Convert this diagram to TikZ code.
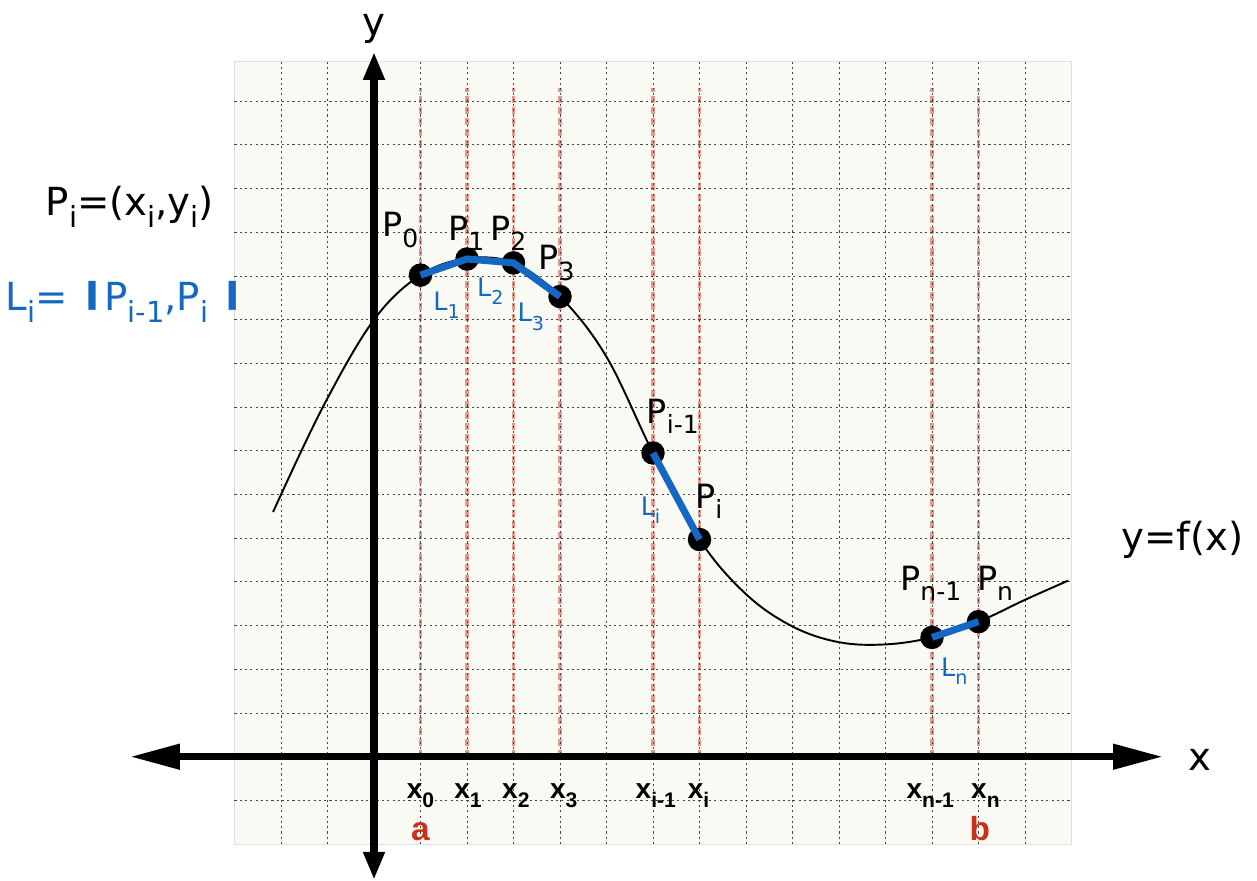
\documentclass[tikz,border=0pt]{standalone}
\usepackage{fontspec}
\setmainfont{DejaVu Sans}
\newfontfamily\axisfont{Liberation Sans}
\usepackage{graphicx}
\usetikzlibrary{arrows.meta}
\definecolor{cseg}{RGB}{20,104,196}
\definecolor{cpart}{RGB}{236,150,138}
\definecolor{cab}{RGB}{200,50,28}
\definecolor{cbg}{RGB}{250,250,245}
\newcommand{\subidx}[1]{\raisebox{-0.32em}{\scalebox{0.75}{#1}}}
\newcommand{\thickbar}{\raisebox{0.17em}{\scalebox{1.7}[0.75]{\textbf{|}}}}
\tikzset{
  gridline/.style={gray!55!black,line width=0.5pt,dash pattern=on 1.2pt off 1.8pt},
  partline/.style={cpart,line width=2.2pt,dash pattern=on 4pt off 2.2pt},
  axis/.style={line width=4.2pt},
  xtips/.style={{Triangle[length=1cm,width=0.48cm]}-{Triangle[length=1cm,width=0.48cm]}},
  ytips/.style={{Triangle[length=0.56cm,width=0.4cm]}-{Triangle[length=0.56cm,width=0.4cm]}},
  curve/.style={line width=1.1pt},
  seg/.style={cseg,line width=4pt},
  plab/.style={inner sep=0pt,anchor=base west,font=\fontsize{19}{21}\selectfont},
  llab/.style={inner sep=0pt,anchor=base west,text=cseg,font=\fontsize{14.5}{16}\selectfont},
  xlab/.style={inner sep=0pt,anchor=base,font=\axisfont\bfseries\fontsize{16}{18}\selectfont},
  ablab/.style={inner sep=0pt,anchor=base,text=cab,font=\axisfont\bfseries\fontsize{19}{21}\selectfont},
  biglab/.style={inner sep=0pt,font=\fontsize{22}{24}\selectfont}
}
\begin{document}
\begin{tikzpicture}[x=0.93cm,y=0.874cm]
  \useasboundingbox (-8.043,-2.822) rectangle (18.989,17.316);
  % sheet with grid, partition lines in red
  \filldraw[fill=cbg,draw=gray!25,line width=0.6pt] (-3,-2) rectangle (15,15.9);
  \foreach \k in {1,2,3,4,6,7,12,13}
    \draw[partline] (\k,0) -- (\k,15.3);
  \foreach \k in {-2,...,14}
    \draw[gridline] (\k,-2) -- (\k,15.9);
  \foreach \k in {-1,...,15}
    \draw[gridline] (-3,\k) -- (15,\k);

  % axes
  \coordinate (xl) at (-5.25,0);
  \coordinate (xr) at (16.97,0);
  \coordinate (yb) at (0,-2.82);
  \coordinate (yt) at (0,16.13);
  \draw[axis,xtips] (xl) -- (xr);
  \draw[axis,ytips] (yb) -- (yt);
  \node[biglab] (xname) at (17.76,-0.08) {x};
  \node[biglab] (yname) at (0,16.65) {y};

  % the curve
  \draw[curve] plot[smooth,tension=0.6] coordinates {(-2.17,5.6) (-1.1,8.0)
    (0,10) (1,11.02) (2,11.4) (3,11.3) (4,10.53) (5,9.15) (6,6.95) (7,4.97)
    (8,3.72) (9,2.98) (10,2.62) (11,2.57) (12,2.73) (13,3.09) (14,3.59)
    (14.93,4.03)};
  \node[biglab] (fname) at (17.38,4.96) {y=f(x)};

  % polygon points
  \coordinate (p0) at (1,11.02);
  \coordinate (p1) at (2,11.39);
  \coordinate (p2) at (3,11.3);
  \coordinate (p3) at (4,10.53);
  \coordinate (pim) at (6,6.95);
  \coordinate (pi) at (7,4.97);
  \coordinate (pnm) at (12,2.73);
  \coordinate (pn) at (13,3.09);
  \foreach \p in {p0,p1,p2,p3,pim,pi,pnm,pn}
    \fill (\p) circle (0.235cm);
  \draw[seg] (p0) -- (p1) -- (p2) -- (p3);
  \draw[seg] (pim) -- (pi);
  \draw[seg] (pnm) -- (pn);

  \node[plab] (lp0) at (0.17,11.9) {P\subidx{0}};
  \node[plab] (lp1) at (1.59,11.82) {P\subidx{1}};
  \node[plab] (lp2) at (2.49,11.82) {P\subidx{2}};
  \node[plab] (lp3) at (3.53,11.14) {P\subidx{3}};
  \node[plab] (lpim) at (5.86,7.63) {P\subidx{i-1}};
  \node[plab] (lpi) at (6.9,5.69) {P\subidx{i}};
  \node[plab] (lpnm) at (11.31,3.81) {P\subidx{n-1}};
  \node[plab] (lpn) at (12.96,3.81) {P\subidx{n}};

  \node[llab] (ll1) at (1.27,10.22) {L\subidx{1}};
  \node[llab] (ll2) at (2.21,10.53) {L\subidx{2}};
  \node[llab] (ll3) at (3.08,9.95) {L\subidx{3}};
  \node[llab] (lli) at (5.73,5.53) {L\subidx{i}};
  \node[llab] (lln) at (12.19,1.83) {L\subidx{n}};

  % abscissae
  \node[xlab] (x0) at (1,-0.95) {x\subidx{0}};
  \node[xlab] (x1) at (2.02,-0.95) {x\subidx{1}};
  \node[xlab] (x2) at (3.05,-0.95) {x\subidx{2}};
  \node[xlab] (x3) at (4.08,-0.95) {x\subidx{3}};
  \node[xlab] (xim) at (6.06,-0.95) {x\subidx{i-1}};
  \node[xlab] (xi) at (6.98,-0.95) {x\subidx{i}};
  \node[xlab] (xnm) at (11.96,-0.95) {x\subidx{n-1}};
  \node[xlab] (xn) at (13.15,-0.95) {x\subidx{n}};
  \node[ablab] (la) at (1,-1.91) {a};
  \node[ablab] (lb) at (13.03,-1.91) {b};

  % definitions
  \node[biglab] (pdef) at (-5.25,12.58) {P\subidx{i}=(x\subidx{i},y\subidx{i})};
  \node[biglab,text=cseg] (ldef) at (-5.35,10.4)
    {L\subidx{i}= \thickbar P\subidx{i-1},P\subidx{i} \thickbar};
\end{tikzpicture}
\end{document}
